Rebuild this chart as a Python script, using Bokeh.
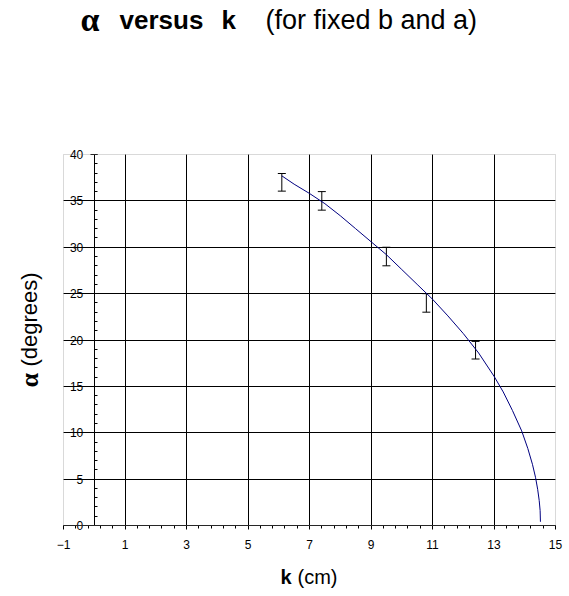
from bokeh.plotting import figure
from bokeh.models import (Range1d, LinearAxis, FixedTicker, Whisker, TeeHead,
                          ColumnDataSource, Label, Grid, BoxAnnotation)
from bokeh.embed import file_html
from bokeh.resources import INLINE

# measured points with error bars
k_meas = [6.1, 7.4, 9.5, 10.8, 12.4]
alpha_meas = [37.0, 35.0, 29.0, 24.0, 18.9]
alpha_err = [0.95, 1.0, 1.0, 1.0, 0.95]

# theoretical curve
k_fit = [6.1, 6.5, 7.0, 7.5, 8.0, 8.5, 9.0, 9.5, 10.0, 10.5, 11.0, 11.5, 12.0,
         12.5, 13.0, 13.3, 13.6, 13.9, 14.1, 14.25, 14.35, 14.42, 14.47, 14.5, 14.51]
alpha_fit = [37.7, 36.8, 35.8, 34.7, 33.4, 32.0, 30.6, 29.2, 27.6, 26.0, 24.4, 22.6, 20.7,
             18.6, 16.1, 14.4, 12.4, 10.2, 8.3, 6.6, 5.2, 3.9, 2.7, 1.6, 0.4]

x_ticks = [-1, 1, 3, 5, 7, 9, 11, 13, 15]
x_grid = [1, 3, 5, 7, 9, 11, 13]
x_minor = [round(-1 + 0.4 * i, 2) for i in range(41)]
y_ticks = [0, 5, 10, 15, 20, 25, 30, 35, 40]
y_grid = [5, 10, 15, 20, 25, 30, 35]
y_minor = list(range(0, 41))

FONT = "Liberation Sans"
SERIF = "Liberation Serif"

# page geometry (pixels)
W, H = 569, 596
FX0, FX1, FY0, FY1 = 63, 555, 154, 525   # plot box: left, right, top, bottom
kmin, kmax = x_ticks[0], x_ticks[-1]
amin, amax = y_ticks[0], y_ticks[-1]
pxk = (FX1 - FX0) / (kmax - kmin)
pxa = (FY1 - FY0) / (amax - amin)


def kx(px):
    return kmin + (px - FX0) / pxk


def ay(py):
    return amin + (FY1 - py) / pxa


p = figure(width=W, height=H,
           x_range=Range1d(kx(0), kx(W)), y_range=Range1d(ay(H), ay(0)),
           output_backend="svg", toolbar_location=None,
           x_axis_location=None, y_axis_location=None,
           min_border=0, min_border_left=0, min_border_right=0,
           min_border_top=0, min_border_bottom=0,
           background_fill_color="white", border_fill_color="white",
           outline_line_color=None)
for g in list(p.xgrid) + list(p.ygrid):
    g.visible = False

has_cb = "cross_bounds" in Grid.properties()
if has_cb:
    p.add_layout(Grid(dimension=0, ticker=FixedTicker(ticks=x_grid), cross_bounds=(amin, amax),
                      grid_line_color="black", grid_line_width=1))
    p.add_layout(Grid(dimension=1, ticker=FixedTicker(ticks=y_grid), cross_bounds=(kmin, kmax),
                      grid_line_color="black", grid_line_width=1))
else:
    p.segment(x0=x_grid, x1=x_grid, y0=[amin] * len(x_grid), y1=[amax] * len(x_grid),
              line_color="black", line_width=1)
    p.segment(x0=[kmin] * len(y_grid), x1=[kmax] * len(y_grid), y0=y_grid, y1=y_grid,
              line_color="black", line_width=1)

p.add_layout(BoxAnnotation(left=kmin, right=kmax, bottom=amin, top=amax,
                           fill_alpha=0, line_color="#808080", line_width=1))

xaxis = LinearAxis(fixed_location=0, bounds=(kmin, kmax),
                   ticker=FixedTicker(ticks=x_ticks, minor_ticks=x_minor),
                   axis_line_color="black", major_tick_line_color="black",
                   minor_tick_line_color="black",
                   major_tick_out=4, major_tick_in=0, minor_tick_out=3, minor_tick_in=0,
                   major_label_text_font=FONT, major_label_text_font_size="12px",
                   major_label_text_color="black", major_label_standoff=10)
p.add_layout(xaxis, "below")

yaxis = LinearAxis(fixed_location=0, bounds=(amin, amax),
                   ticker=FixedTicker(ticks=y_ticks, minor_ticks=y_minor),
                   axis_line_color="black", major_tick_line_color="black",
                   minor_tick_line_color="black",
                   major_tick_out=4, major_tick_in=3, minor_tick_out=0, minor_tick_in=3,
                   major_label_text_font=FONT, major_label_text_font_size="12px",
                   major_label_text_color="black", major_label_standoff=7)
p.add_layout(yaxis, "left")

p.line(k_fit, alpha_fit, line_color="#000080", line_width=1)

src = ColumnDataSource(dict(
    k=k_meas,
    upper=[a + e for a, e in zip(alpha_meas, alpha_err)],
    lower=[a - e for a, e in zip(alpha_meas, alpha_err)],
))
p.add_layout(Whisker(source=src, base="k", upper="upper", lower="lower",
                     dimension="height", line_color="black", line_width=1,
                     upper_head=TeeHead(size=8, line_color="black", line_width=1),
                     lower_head=TeeHead(size=8, line_color="black", line_width=1)))


def lab(px, py, text, font=FONT, size="20px", style="normal", angle=0):
    p.add_layout(Label(x=kx(px), y=ay(py), text=text, text_font=font, text_font_size=size,
                       text_font_style=style, text_color="black",
                       text_align="left", text_baseline="alphabetic", angle=angle))


# title pieces
lab(80, 19, "α", font=SERIF, size="34px", style="bold")
lab(119, 19, "versus", size="26px", style="bold")
lab(221, 19, "k", size="26px", style="bold")
lab(265, 19, "(for fixed b and a)", size="27px")

# x axis label
lab(280, 576, "k", size="20px", style="bold")
lab(297, 576, "(cm)", size="20px")

# y axis label (rotated)
lab(29, 387, "α", font=SERIF, size="26px", style="bold", angle=1.5707963)
lab(29, 366, "(degrees)", size="22px", angle=1.5707963)

open("out.html", "w").write(file_html(p, INLINE))
